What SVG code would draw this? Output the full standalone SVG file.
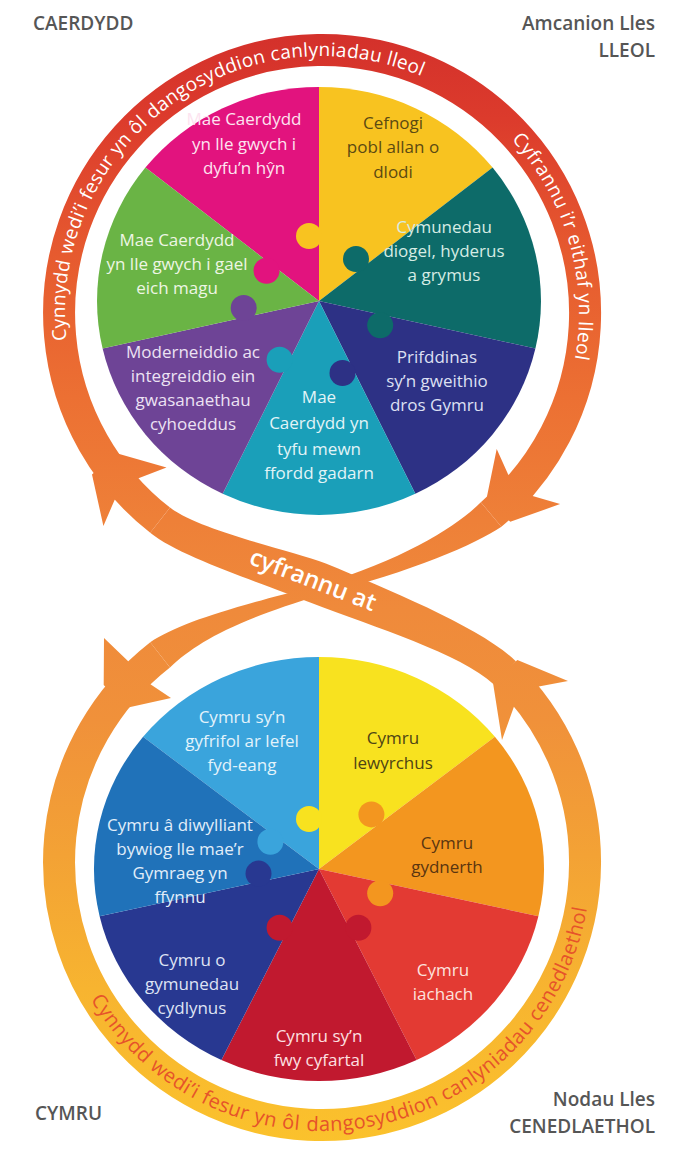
<svg xmlns="http://www.w3.org/2000/svg" width="687" height="1155" viewBox="0 0 687 1155">
<defs>
<linearGradient id="band" gradientUnits="userSpaceOnUse" x1="0" y1="30" x2="0" y2="1145">
<stop offset="0" stop-color="#d3302b"/>
<stop offset="0.08" stop-color="#dc3b2c"/>
<stop offset="0.2" stop-color="#e65a2f"/>
<stop offset="0.33" stop-color="#ec7033"/>
<stop offset="0.44" stop-color="#ee8038"/>
<stop offset="0.52" stop-color="#ef8a3b"/>
<stop offset="0.62" stop-color="#f0913a"/>
<stop offset="0.74" stop-color="#f3a235"/>
<stop offset="0.86" stop-color="#f7b430"/>
<stop offset="1" stop-color="#fbc22c"/>
</linearGradient>
<path id="tpL" d="M 99.4 441.5 A 257 257 0 0 1 521.7 151.3"/>
<path id="tpR" d="M 450.5 90.4 A 257 257 0 0 1 548.9 433.7"/>
<path id="bp" d="M 69.2 954 A 269 269 0 0 0 591 862"/>
</defs>
<style>
.lbl{font-family:"Open Sans","Liberation Sans",sans-serif;font-size:17px;text-anchor:middle}
.corner{font-family:"Open Sans","Liberation Sans",sans-serif;font-size:19px;font-weight:600;fill:#565656}
.ring{font-family:"Open Sans","Liberation Sans",sans-serif;font-size:19px;fill:#ffffff;text-anchor:middle;letter-spacing:0.3px}
.ringR{letter-spacing:0.45px}
.ringB{font-size:20px;fill:#e6532a;letter-spacing:0.45px}
.band{fill:none;stroke:url(#band);stroke-width:32}
.bandf{fill:url(#band)}
.knob{stroke:none}
</style>
<rect width="687" height="1155" fill="#ffffff"/>

<g id="corner-labels">
<text class="corner" x="33" y="30">CAERDYDD</text>
<text class="corner" x="655" y="30" text-anchor="end">Amcanion Lles</text>
<text class="corner" x="655" y="57" text-anchor="end">LLEOL</text>
<text class="corner" x="35" y="1120">CYMRU</text>
<text class="corner" x="655" y="1106" text-anchor="end">Nodau Lles</text>
<text class="corner" x="655" y="1133" text-anchor="end">CENEDLAETHOL</text>
</g>

<g id="connectors">
<path class="band" d="M 160.1 520.2 A 263 263 0 1 1 491.1 514.5"/>
<path class="band" d="M 160.1 654.8 A 263 263 0 1 0 504.7 672.8"/>
<path class="bandf" d="M 501.4 526.8 C 476.5 543.8, 411.9 571.7, 321.3 594.8 C 231.9 621.7, 195.7 643.4, 170 667.4 L 150.2 642.2 C 179.7 623, 228.1 608.3, 318.7 585.2 C 408.1 558.3, 459.7 523.8, 480.8 502.2 Z"/>
<path class="bandf" d="M 515.8 661.3 C 484.1 629.3, 390.5 590.3, 325.8 563.5 C 288.2 549.6, 202.1 531.4, 170 507.6 L 150.2 532.8 C 181.1 558.2, 273.4 586.8, 310.2 602.5 C 375.7 627.5, 460.5 653.7, 493.6 684.3 Z"/>
<polygon class="bandf" points="532.6,496.1 560.1,504.1 510.3,521.8 486.1,500.8 496.7,448.9 508.4,475.1"/>
<polygon class="bandf" points="128.2,661.3 104,638 103.7,684.9 125.9,707.9 171,698 150.4,684.3"/>
<polygon class="bandf" points="538.8,686.4 568,681 517.4,660 492.6,680.2 502,740 514,706.6"/>
<polygon class="bandf" points="114.7,499.7 103.4,526 92,474.4 115.8,453 166.5,467.5 138.5,478.3"/>
<text class="ring"><textPath href="#tpL" startOffset="147">Cynnydd</textPath></text>
<text class="ring"><textPath href="#tpL" startOffset="218.5">wedi’i</textPath></text>
<text class="ring"><textPath href="#tpL" startOffset="273.8">fesur</textPath></text>
<text class="ring"><textPath href="#tpL" startOffset="313.8">yn</textPath></text>
<text class="ring"><textPath href="#tpL" startOffset="338.6">ôl</textPath></text>
<text class="ring"><textPath href="#tpL" startOffset="417.4">dangosyddion</textPath></text>
<text class="ring"><textPath href="#tpL" startOffset="542.2">canlyniadau</textPath></text>
<text class="ring"><textPath href="#tpL" startOffset="621.3">lleol</textPath></text>
<text class="ring ringR"><textPath href="#tpR" startOffset="121">Cyfrannu</textPath></text>
<text class="ring ringR"><textPath href="#tpR" startOffset="177.2">i’r</textPath></text>
<text class="ring ringR"><textPath href="#tpR" startOffset="217.8">eithaf</textPath></text>
<text class="ring ringR"><textPath href="#tpR" startOffset="260.8">yn</textPath></text>
<text class="ring ringR"><textPath href="#tpR" startOffset="296.3">lleol</textPath></text>
<text class="ring ringB"><textPath href="#bp" startOffset="92.5">Cynnydd</textPath></text>
<text class="ring ringB"><textPath href="#bp" startOffset="168.5">wedi’i</textPath></text>
<text class="ring ringB"><textPath href="#bp" startOffset="227.5">fesur</textPath></text>
<text class="ring ringB"><textPath href="#bp" startOffset="270.5">yn</textPath></text>
<text class="ring ringB"><textPath href="#bp" startOffset="297">ôl</textPath></text>
<text class="ring ringB"><textPath href="#bp" startOffset="381.5">dangosyddion</textPath></text>
<text class="ring ringB"><textPath href="#bp" startOffset="515">canlyniadau</textPath></text>
<text class="ring ringB"><textPath href="#bp" startOffset="642">cenedlaethol</textPath></text>
<text class="ring" x="313" y="588" transform="rotate(21 313 580)" style="font-size:24px;font-weight:600;letter-spacing:0">cyfrannu at</text>
</g>

<g id="top-wheel">
<g id="lleol-hyn">
<path d="M319 301 L145.4 167.6 A222 214 0 0 1 319 87 Z" fill="#e2137e"/>
<text class="lbl" fill="#fde4f0"><tspan x="244" y="125">Mae Caerdydd</tspan><tspan x="244" y="150">yn lle gwych i</tspan><tspan x="244" y="174">dyfu’n hŷn</tspan></text>
</g>
<g id="lleol-tlodi">
<path d="M319 301 L319 87 A222 214 0 0 1 492.6 167.6 Z" fill="#f8c320"/>
<text class="lbl" fill="#5c4a12"><tspan x="393" y="129">Cefnogi</tspan><tspan x="393" y="153">pobl allan o</tspan><tspan x="393" y="178">dlodi</tspan></text>
</g>
<g id="lleol-cymunedau">
<path d="M319 301 L492.6 167.6 A222 214 0 0 1 535.4 348.6 Z" fill="#0d6b69"/>
<text class="lbl" fill="#d6ece4"><tspan x="444" y="233">Cymunedau</tspan><tspan x="444" y="257">diogel, hyderus</tspan><tspan x="444" y="281">a grymus</tspan></text>
</g>
<g id="lleol-prifddinas">
<path d="M319 301 L535.4 348.6 A222 214 0 0 1 415.3 493.8 Z" fill="#2d3185"/>
<text class="lbl" fill="#dde0f3"><tspan x="437" y="363">Prifddinas</tspan><tspan x="437" y="387">sy’n gweithio</tspan><tspan x="437" y="411">dros Gymru</tspan></text>
</g>
<g id="lleol-tyfu">
<path d="M319 301 L415.3 493.8 A222 214 0 0 1 222.7 493.8 Z" fill="#1a9fb9"/>
<text class="lbl" fill="#e2f4f7"><tspan x="319" y="403">Mae</tspan><tspan x="319" y="429">Caerdydd yn</tspan><tspan x="319" y="455">tyfu mewn</tspan><tspan x="319" y="479">ffordd gadarn</tspan></text>
</g>
<g id="lleol-gwasanaethau">
<path d="M319 301 L222.7 493.8 A222 214 0 0 1 102.6 348.6 Z" fill="#6e4496"/>
<text class="lbl" fill="#ece2f3"><tspan x="193" y="358">Moderneiddio ac</tspan><tspan x="193" y="382">integreiddio ein</tspan><tspan x="193" y="406">gwasanaethau</tspan><tspan x="193" y="430">cyhoeddus</tspan></text>
</g>
<g id="lleol-magu">
<path d="M319 301 L102.6 348.6 A222 214 0 0 1 145.4 167.6 Z" fill="#6ab445"/>
<text class="lbl" fill="#eef6e4"><tspan x="177" y="246">Mae Caerdydd</tspan><tspan x="177" y="270">yn lle gwych i gael</tspan><tspan x="177" y="294">eich magu</tspan></text>
</g>
<g id="top-tabs">
<circle class="knob" cx="309" cy="236" r="13" fill="#f8c320"/>
<circle class="knob" cx="356" cy="259" r="13" fill="#0d6b69"/>
<circle class="knob" cx="380.2" cy="325.3" r="13" fill="#0d6b69"/>
<circle class="knob" cx="342.5" cy="373" r="13" fill="#2d3185"/>
<circle class="knob" cx="279.6" cy="359.8" r="13" fill="#1a9fb9"/>
<circle class="knob" cx="243.7" cy="308" r="13" fill="#6e4496"/>
<circle class="knob" cx="266.5" cy="270.7" r="13" fill="#e2137e"/>
</g>
</g>

<g id="bottom-wheel">
<g id="cymru-fyd-eang">
<path d="M319 869 L143.1 736.8 A225 212 0 0 1 319 657 Z" fill="#3aa4dc"/>
<text class="lbl" fill="#e3f3fb"><tspan x="242" y="723">Cymru sy’n</tspan><tspan x="242" y="747">gyfrifol ar lefel</tspan><tspan x="242" y="771">fyd-eang</tspan></text>
</g>
<g id="cymru-lewyrchus">
<path d="M319 869 L319 657 A225 212 0 0 1 494.9 736.8 Z" fill="#f8e21f"/>
<text class="lbl" fill="#4e4415"><tspan x="393" y="744">Cymru</tspan><tspan x="393" y="769">lewyrchus</tspan></text>
</g>
<g id="cymru-gydnerth">
<path d="M319 869 L494.9 736.8 A225 212 0 0 1 538.4 916.2 Z" fill="#f3961f"/>
<text class="lbl" fill="#5a3510"><tspan x="447" y="849">Cymru</tspan><tspan x="447" y="873">gydnerth</tspan></text>
</g>
<g id="cymru-iachach">
<path d="M319 869 L538.4 916.2 A225 212 0 0 1 416.6 1060 Z" fill="#e33a33"/>
<text class="lbl" fill="#fde2de"><tspan x="443" y="976">Cymru</tspan><tspan x="443" y="1000">iachach</tspan></text>
</g>
<g id="cymru-cyfartal">
<path d="M319 869 L416.6 1060 A225 212 0 0 1 221.4 1060 Z" fill="#c1192f"/>
<text class="lbl" fill="#fde0e2"><tspan x="319" y="1042">Cymru sy’n</tspan><tspan x="319" y="1066">fwy cyfartal</tspan></text>
</g>
<g id="cymru-cydlynus">
<path d="M319 869 L221.4 1060 A225 212 0 0 1 99.6 916.2 Z" fill="#283891"/>
<text class="lbl" fill="#dfe3f4"><tspan x="192" y="966">Cymru o</tspan><tspan x="192" y="990">gymunedau</tspan><tspan x="192" y="1014">cydlynus</tspan></text>
</g>
<g id="cymru-diwylliant">
<path d="M319 869 L99.6 916.2 A225 212 0 0 1 143.1 736.8 Z" fill="#2072b9"/>
<text class="lbl" fill="#e2eef9"><tspan x="180" y="831">Cymru â diwylliant</tspan><tspan x="180" y="855">bywiog lle mae’r</tspan><tspan x="180" y="879">Gymraeg yn</tspan><tspan x="180" y="903">ffynnu</tspan></text>
</g>
<g id="bottom-tabs">
<circle class="knob" cx="309" cy="819" r="13" fill="#f8e21f"/>
<circle class="knob" cx="371.4" cy="814.4" r="13" fill="#f3961f"/>
<circle class="knob" cx="380.2" cy="893.3" r="13" fill="#f3961f"/>
<circle class="knob" cx="358.4" cy="927.8" r="13" fill="#c1192f"/>
<circle class="knob" cx="279.6" cy="927.8" r="13" fill="#c1192f"/>
<circle class="knob" cx="258.5" cy="873.6" r="13" fill="#283891"/>
<circle class="knob" cx="270.4" cy="841.8" r="13" fill="#3aa4dc"/>
</g>
</g>
</svg>
